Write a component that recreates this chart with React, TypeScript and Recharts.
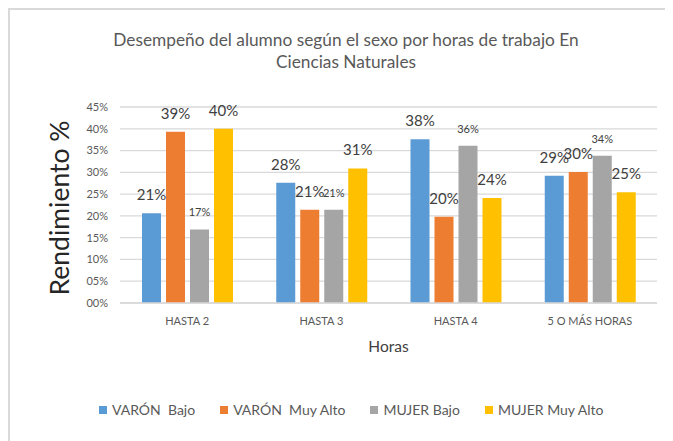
import { BarChart, Bar, XAxis, YAxis, CartesianGrid, LabelList, Label } from "recharts";

const categories = ["HASTA 2", "HASTA 3", "HASTA 4", "5 O MÁS HORAS"];
const varonBajo = [20.6, 27.6, 37.6, 29.2];
const varonMuyAlto = [39.3, 21.4, 19.8, 30.1];
const mujerBajo = [16.9, 21.4, 36.1, 33.8];
const mujerMuyAlto = [40.0, 30.9, 24.1, 25.4];
const yTicks = [0, 5, 10, 15, 20, 25, 30, 35, 40, 45];

const seriesInfo = [
  { key: "varonBajo", name: "VARÓN  Bajo", color: "#5b9bd5", labelSize: 15 },
  { key: "varonMuyAlto", name: "VARÓN  Muy Alto", color: "#ed7d31", labelSize: 15 },
  { key: "mujerBajo", name: "MUJER Bajo", color: "#a5a5a5", labelSize: 11 },
  { key: "mujerMuyAlto", name: "MUJER Muy Alto", color: "#ffc000", labelSize: 15 },
];

const data = categories.map((c, i) => ({
  category: c,
  varonBajo: varonBajo[i],
  varonMuyAlto: varonMuyAlto[i],
  mujerBajo: mujerBajo[i],
  mujerMuyAlto: mujerMuyAlto[i],
}));

const FONT = "Lato, 'Open Sans', sans-serif";

function pct(v: number) {
  return String(Math.round(v)).padStart(2, "0") + "%";
}

export default function App() {
  return (
    <div
      style={{
        position: "relative",
        width: "665px",
        height: "433px",
        borderTop: "2px solid #d9d9d9",
        borderLeft: "2px solid #d9d9d9",
        background: "#fff",
        fontFamily: FONT,
      }}
    >
      {/* Title */}
      <div
        style={{
          position: "absolute",
          left: 0,
          top: 19,
          width: "672px",
          textAlign: "center",
          fontSize: "17.3px",
          lineHeight: "22px",
          color: "#595959",
        }}
      >
        Desempeño del alumno según el sexo por horas de trabajo En
        <br />
        Ciencias Naturales
      </div>
      <BarChart
        width={663}
        height={431}
        data={data}
        margin={{ top: 97, right: 16, bottom: 0, left: 0 }}
        barCategoryGap="16%"
        barGap={5}
        style={{ position: "absolute", left: 0, top: 0 }}
      >
        <CartesianGrid vertical={false} stroke="#d9d9d9" strokeWidth={1.3} />
        <XAxis
          dataKey="category"
          stroke="#d9d9d9"
          strokeWidth={1.5}
          tickLine={false}
          tick={{ fill: "#595959", fontSize: 11, fontFamily: FONT }}
          tickMargin={8}
          height={138}
        >
          <Label value="Horas" position="insideTop" offset={38} style={{ fill: "#404040", fontSize: 15.5, fontFamily: FONT }} />
        </XAxis>
        <YAxis
          width={110}
          domain={[0, 45]}
          ticks={yTicks}
          interval={0}
          axisLine={false}
          tickLine={false}
          tickSize={0}
          tickMargin={12}
          tickFormatter={pct}
          tick={{ fill: "#595959", fontSize: 11, fontFamily: FONT }}
        >
          <Label
            value="Rendimiento %"
            angle={-90}
            position="center"
            dx={-5}
            dy={3}
            style={{ fill: "#262626", fontSize: 26.5, fontFamily: FONT, textAnchor: "middle" }}
          />
        </YAxis>
        {seriesInfo.map((s) => (
          <Bar key={s.key} dataKey={s.key} name={s.name} fill={s.color} barSize={19} isAnimationActive={false}>
            <LabelList
              dataKey={s.key}
              position="top"
              offset={13}
              formatter={(v: number) => Math.round(v) + "%"}
              style={{ fill: "#404040", fontSize: s.labelSize, fontFamily: FONT }}
            />
          </Bar>
        ))}
      </BarChart>
      {/* Legend */}
      <div
        style={{
          position: "absolute",
          left: 89,
          top: 391,
          display: "flex",
          gap: "25px",
          fontSize: "14px",
          color: "#595959",
          whiteSpace: "pre",
        }}
      >
        {seriesInfo.map((s) => (
          <div key={s.key} style={{ display: "flex", alignItems: "center", gap: "5px" }}>
            <span style={{ width: "8px", height: "8px", background: s.color, display: "inline-block" }} />
            <span>{s.name}</span>
          </div>
        ))}
      </div>
    </div>
  );
}
